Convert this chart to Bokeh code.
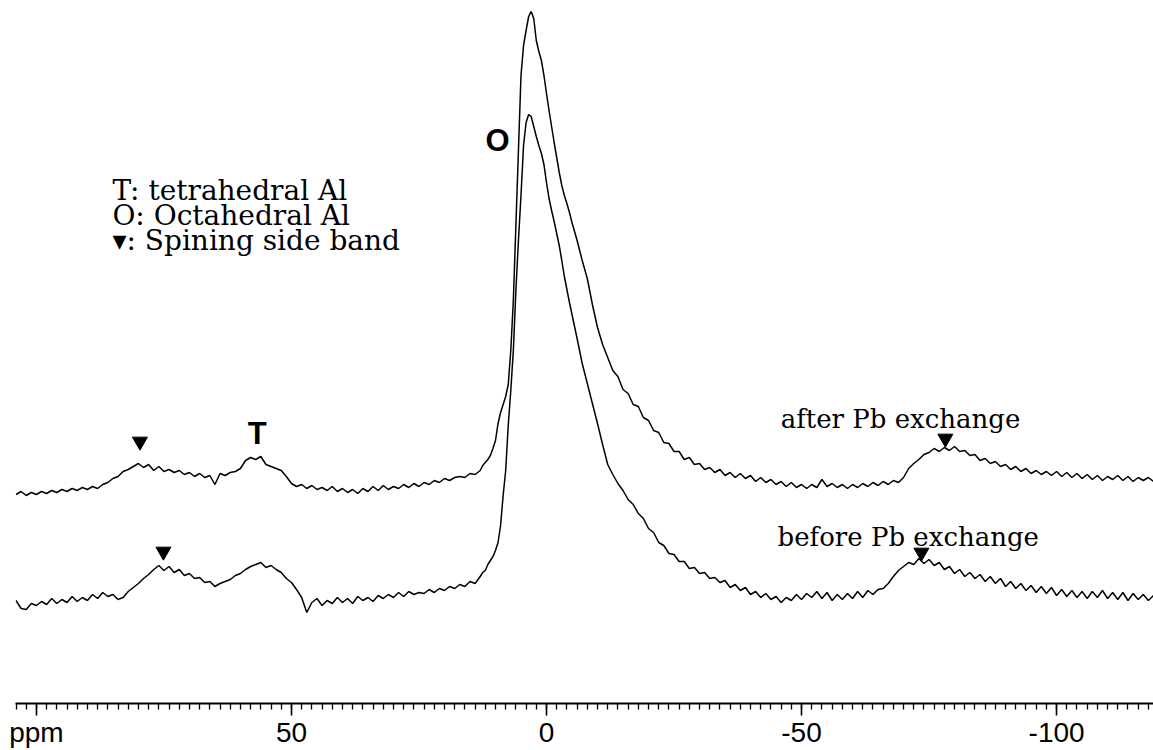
from bokeh.plotting import figure
from bokeh.models import Range1d, FixedTicker
from bokeh.core.properties import value
from bokeh.embed import file_html
from bokeh.resources import INLINE

# ---- chemical shift grid (ppm) ----
ppm_left = [104, 103, 102, 101, 100, 99, 98, 97, 96, 95, 94, 93, 92, 91, 90, 89, 88, 87, 86, 85,
            84, 83, 82, 81, 80, 79, 78, 77, 76, 75, 74, 73, 72, 71, 70, 69, 68, 67, 66, 65,
            64, 63, 62, 61, 60, 59, 58, 57, 56, 55, 54, 53, 52, 51, 50, 49, 48, 47, 46, 45,
            44, 43, 42, 41, 40, 39, 38, 37, 36, 35, 34, 33, 32, 31, 30, 29, 28, 27, 26, 25,
            24, 23, 22, 21, 20, 19, 18, 17, 16, 15, 14, 13]
ppm_peak = [12.5, 12.0, 11.5, 11.0, 10.5, 10.0, 9.5, 9.0, 8.5, 8.0, 7.5, 7.0, 6.5, 6.0, 5.5, 5.0,
            4.5, 4.0, 3.5, 3.0, 2.5, 2.0, 1.5, 1.0, 0.5, 0.0, -0.5, -1.0, -1.5, -2.0, -2.5, -3.0,
            -3.5, -4.0, -4.5, -5.0]
ppm_right = [-6, -7, -8, -9, -10, -11, -12, -13, -14, -15, -16, -17, -18, -19, -20, -21, -22, -23,
             -24, -25, -26, -27, -28, -29, -30, -31, -32, -33, -34, -35, -36, -37, -38, -39, -40,
             -41, -42, -43, -44, -45, -46, -47, -48, -49, -50, -51, -52, -53, -54, -55, -56, -57,
             -58, -59, -60, -61, -62, -63, -64, -65, -66, -67, -68, -69, -70, -71, -72, -73, -74,
             -75, -76, -77, -78, -79, -80, -81, -82, -83, -84, -85, -86, -87, -88, -89, -90, -91,
             -92, -93, -94, -95, -96, -97, -98, -99, -100, -101, -102, -103, -104, -105, -106,
             -107, -108, -109, -110, -111, -112, -113, -114, -115, -116, -117, -118, -119]

# ---- 27Al intensity, after Pb exchange (arbitrary units) ----
after_left = [-4, -1, -5, -2, -4, -1, -3, 0, -2, 1, -1, 2, 0, 3, 1, 4, 2, 6, 8, 12,
              14, 19, 21, 24, 27, 23, 26, 20, 24, 19, 21, 18, 20, 16, 18, 14, 17, 13, 15, 6,
              17, 15, 18, 19, 22, 30, 33, 31, 34, 26, 24, 22, 20, 14, 7, 4, 6, 2, 5, 1,
              3, 0, 4, -1, 2, -2, 1, -3, 2, -1, 4, 0, 5, 1, 4, 2, 6, 3, 7, 4,
              8, 6, 10, 8, 12, 10, 13, 14, 13, 17, 16, 20]
after_peak = [25, 28, 31, 35, 42, 50, 67, 78, 86, 94, 106, 140, 190, 265, 340, 415,
              445, 460, 474, 479, 472, 450, 439, 430, 415, 397, 380, 364, 348, 333, 318, 305,
              295, 287, 278, 268]
after_right = [250, 230, 212, 186, 163, 146, 133, 120, 114, 101, 97, 86, 84, 73, 70, 60, 58, 48,
               47, 39, 39, 31, 33, 26, 27, 21, 23, 18, 21, 15, 18, 13, 17, 12, 15,
               9, 13, 8, 11, 6, 9, 4, 8, 3, 6, 2, 6, 3, 11, 4, 7, 3,
               6, 2, 6, 3, 7, 4, 8, 5, 9, 6, 10, 8, 13, 22, 27, 31, 36,
               38, 42, 39, 43, 40, 44, 39, 40, 35, 36, 30, 32, 27, 29, 24, 26, 21,
               24, 19, 22, 17, 20, 16, 19, 15, 19, 14, 18, 13, 17, 12, 16,
               11, 15, 10, 14, 11, 15, 10, 14, 9, 13, 10, 13, 9]

# ---- 27Al intensity, before Pb exchange (arbitrary units) ----
before_left = [0, -8, -9, -3, -5, -1, -4, 2, -3, 1, -2, 4, -1, 3, 0, 6, 2, 8, 4, 6,
               1, 3, 9, 13, 17, 22, 26, 31, 35, 30, 34, 28, 31, 25, 27, 22, 23, 18, 19, 14,
               17, 19, 21, 25, 27, 31, 34, 36, 38, 33, 35, 31, 28, 22, 18, 11, 3, -12, -2, 2,
               -5, 0, -3, 3, -2, 2, -3, 4, 0, 3, -1, 5, 2, 6, 3, 8, 4, 9, 6, 8,
               7, 11, 8, 12, 10, 14, 12, 16, 14, 19, 17, 24]
before_peak = [28, 30, 36, 40, 44, 50, 58, 75, 105, 130, 175, 210, 250, 310, 360, 405,
               455, 478, 486, 484, 474, 464, 455, 447, 436, 418, 402, 390, 379, 367, 355, 340,
               324, 311, 298, 286]
before_right = [262, 237, 217, 197, 177, 156, 136, 126, 117, 110, 101, 96, 87, 82, 72, 68, 58, 55,
                47, 46, 39, 39, 32, 33, 27, 28, 22, 23, 18, 20, 13, 16, 10, 13, 6,
                9, 3, 7, 1, 4, -2, 3, 0, 6, 1, 7, 3, 9, 2, 8, 0, 6,
                1, 7, 2, 9, 3, 10, 6, 11, 12, 17, 24, 30, 34, 38, 36, 42, 37,
                41, 35, 38, 31, 34, 27, 31, 24, 28, 22, 26, 19, 24, 17, 22, 14, 19,
                12, 17, 10, 15, 8, 14, 7, 13, 5, 11, 4, 10, 3, 9, 2,
                9, 3, 10, 2, 8, 1, 8, 0, 7, 1, 6, 0, 5]

# spinning side band positions (ppm) and marker heights above each baseline
sideband_after_ppm = [79.7, -78.2]
sideband_after_h = [49, 52]
sideband_before_ppm = [75.1, -73.5]
sideband_before_h = [49, 48]

# axis ticks
major_ticks = [100, 50, 0, -50, -100]
tick_labels = {100: "ppm", 50: "50", 0: "0", -50: "-50", -100: "-100"}

# legend / labels
legend_lines = ["T: tetrahedral Al", "O: Octahedral Al", "\u25be: Spining side band"]
series_labels = ["after Pb exchange", "before Pb exchange"]

ppm = ppm_left + ppm_peak + ppm_right
after = after_left + after_peak + after_right
before = before_left + before_peak + before_right

AFTER_OFFSET = 213
BEFORE_OFFSET = 103

p = figure(width=1153, height=750, output_backend="svg", toolbar_location=None,
           x_range=Range1d(104.1, -119.0), y_range=Range1d(0, 703),
           y_axis_location=None,
           min_border_left=15, min_border_right=0, min_border_top=0, min_border_bottom=47)
p.outline_line_color = None
p.grid.visible = False
p.background_fill_color = "white"
p.border_fill_color = "white"

minor_ticks = [t for t in range(104, -120, -2)]
p.xaxis.ticker = FixedTicker(ticks=major_ticks, minor_ticks=minor_ticks)
p.xaxis.major_label_overrides = tick_labels
p.xaxis.axis_line_width = 2
p.xaxis.axis_line_color = "black"
p.xaxis.major_tick_out = 12
p.xaxis.major_tick_in = 0
p.xaxis.minor_tick_out = 6
p.xaxis.minor_tick_in = 0
p.xaxis.major_tick_line_width = 1.6
p.xaxis.minor_tick_line_width = 1.3
p.xaxis.major_tick_line_color = "black"
p.xaxis.minor_tick_line_color = "black"
p.xaxis.major_label_standoff = 1
p.xaxis.major_label_text_font = "Liberation Sans"
p.xaxis.major_label_text_font_size = "28px"
p.xaxis.major_label_text_color = "black"

p.line([x for x in ppm], [AFTER_OFFSET + v for v in after], line_color="black", line_width=1.5)
p.line([x for x in ppm], [BEFORE_OFFSET + v for v in before], line_color="black", line_width=1.5)

p.scatter(sideband_after_ppm, [AFTER_OFFSET + h for h in sideband_after_h],
          marker="inverted_triangle", size=15, color="black")
p.scatter(sideband_before_ppm, [BEFORE_OFFSET + h for h in sideband_before_h],
          marker="inverted_triangle", size=15, color="black")

# legend block
p.text(x=[85.1, 85.1, 85.1], y=[513, 488, 463], text=legend_lines,
       text_font=value("DejaVu Serif"), text_font_size="28px",
       text_baseline="alphabetic", text_align="left", text_color="black")

# series labels
p.text(x=[-45.9, -45.3], y=[285, 167], text=series_labels,
       text_font=value("DejaVu Serif"), text_font_size="26px",
       text_baseline="alphabetic", text_align="left", text_color="black")

# peak labels
p.text(x=[56.7, 9.6], y=[270, 563], text=["T", "O"],
       text_font=value("Liberation Sans"), text_font_size="31px", text_font_style="bold",
       text_baseline="alphabetic", text_align="center", text_color="black")

open("out.html", "w").write(file_html(p, INLINE))
